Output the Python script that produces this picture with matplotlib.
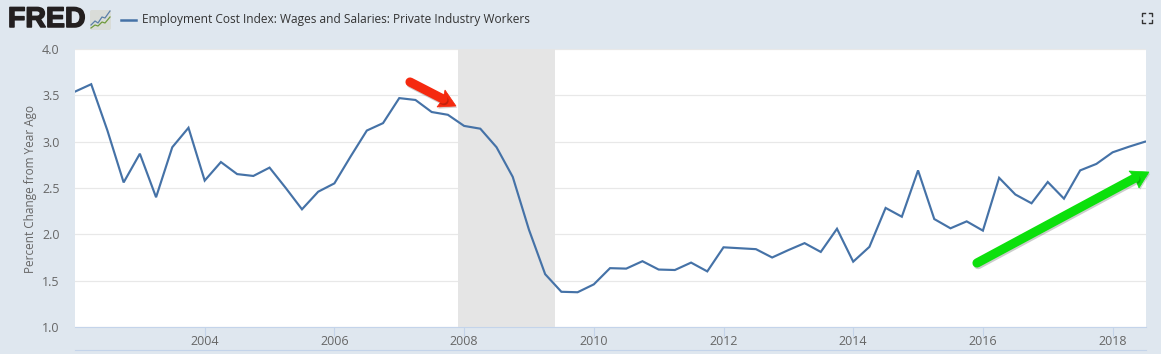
import matplotlib
matplotlib.use("Agg")
import matplotlib.pyplot as plt
from matplotlib.patches import FancyBboxPatch, Polygon
import matplotlib.patheffects as pe

plt.rcParams['font.family'] = ['Open Sans', 'DejaVu Sans']

years = [2002 + 0.25 * i for i in range(67)]
values = [3.54, 3.62, 3.12, 2.56, 2.87, 2.40, 2.94, 3.15,
          2.58, 2.78, 2.65, 2.63, 2.72, 2.50, 2.27, 2.46,
          2.55, 2.84, 3.12, 3.20, 3.47, 3.45, 3.32, 3.29,
          3.17, 3.14, 2.94, 2.62, 2.05, 1.57, 1.38, 1.375,
          1.46, 1.635, 1.63, 1.71, 1.62, 1.615, 1.695, 1.60,
          1.86, 1.85, 1.84, 1.75, 1.83, 1.905, 1.81, 2.06,
          1.705, 1.865, 2.285, 2.19, 2.69, 2.165, 2.065, 2.14,
          2.04, 2.61, 2.43, 2.335, 2.565, 2.385, 2.69, 2.76,
          2.885, 2.945, 3.0]
recession = (2007.91, 2009.40)
x_ticks = [2004, 2006, 2008, 2010, 2012, 2014, 2016, 2018]
y_ticks = [1.0, 1.5, 2.0, 2.5, 3.0, 3.5, 4.0]
series_name = "Employment Cost Index: Wages and Salaries: Private Industry Workers"
y_label = "Percent Change from Year Ago"

W, H = 1161, 354
BG = '#dfe7ef'
LINE = '#4572a7'
GREY = '#666666'
AXISC = '#c4d4ea'
fig = plt.figure(figsize=(W / 100, H / 100), dpi=100, facecolor=BG)

L, R, T, B = 75, 1146, 49, 327
ax = fig.add_axes([L / W, 1 - B / H, (R - L) / W, (B - T) / H])
ax.set_xlim(2002, 2018.515)
ax.set_ylim(1, 4)
ax.axvspan(*recession, color='#e5e5e5', zorder=1.5, lw=0)
ax.plot(years, values, color=LINE, lw=1.55, zorder=3, solid_joinstyle='miter')
ax.set_xticks(x_ticks)
ax.set_yticks(y_ticks)
ax.set_yticklabels([f"{v:.1f}" for v in y_ticks])
ax.grid(axis='y', color='#e8e8e8', lw=0.9, zorder=1)
ax.set_axisbelow(True)
for s in ('top', 'left', 'right'):
    ax.spines[s].set_visible(False)
ax.spines['bottom'].set_color(AXISC)
ax.tick_params(axis='x', length=6.5, width=0.8, color=AXISC, labelsize=9, labelcolor=GREY, pad=-0.5)
ax.tick_params(axis='y', length=0, labelsize=9, labelcolor=GREY, pad=11)
ax.set_ylabel(y_label, fontsize=8.5, color=GREY)
ax.yaxis.set_label_coords(-0.0355, 0.495)

# overlay in pixel coordinates for page furniture
ov = fig.add_axes([0, 0, 1, 1], facecolor='none', zorder=5)
ov.set_xlim(0, W)
ov.set_ylim(H, 0)
ov.axis('off')

ov.plot([75, R], [349.5, 349.5], color=AXISC, lw=0.8)

ov.text(8, 20, "FRED", fontsize=20.5, fontweight='bold', color='#231f20', va='center', ha='left',
        family=['Liberation Sans', 'DejaVu Sans'],
        path_effects=[pe.withStroke(linewidth=1.1, foreground='#231f20')])

# small logo icon
ov.add_patch(FancyBboxPatch((90, 10), 21, 20, boxstyle='round,pad=0,rounding_size=2',
                            fc='#d9dcd8', ec='none'))
ov.plot([91, 95, 98, 102, 105, 110], [25, 21, 23, 17, 18, 11], color='#5b7fa8', lw=0.9)
ov.plot([91, 95, 98, 102, 105, 110], [28, 25, 26, 22, 23, 17], color='#6f9a3c', lw=0.9)

# legend
ov.plot([121, 136], [20, 20], color=LINE, lw=1.8)
ov.text(142, 20, series_name, fontsize=8.6, color='#333333', va='center', ha='left')

# fullscreen icon
cx0, cx1, cy0, cy1 = 1142, 1152, 13, 23
for xs, ys in [([cx0, cx0, cx0 + 3], [cy0 + 3, cy0, cy0]),
               ([cx1 - 3, cx1, cx1], [cy0, cy0, cy0 + 3]),
               ([cx0, cx0, cx0 + 3], [cy1 - 3, cy1, cy1]),
               ([cx1 - 3, cx1, cx1], [cy1, cy1, cy1 - 3])]:
    ov.plot(xs, ys, color='#333333', lw=1.0)

# annotation arrows: rounded shaft plus a swept-back head
def arrow(tail, neck, tip, barb1, barb2, color):
    shadow = [pe.SimplePatchShadow(offset=(0.8, -1.2), alpha=0.2), pe.Normal()]
    ov.plot([tail[0], neck[0]], [tail[1], neck[1]], color=color, lw=6.6,
            solid_capstyle='round',
            path_effects=[pe.SimpleLineShadow(offset=(0.8, -1.2), alpha=0.2), pe.Normal()])
    ov.add_patch(Polygon([tip, barb1, neck, barb2], closed=True, fc=color, ec=color,
                         lw=0.5, path_effects=shadow))

arrow((410, 82), (443, 99), (456, 106), (445, 90), (437, 107), '#f5290f')
arrow((977, 263), (1135, 178), (1149, 172), (1129, 171), (1139, 188), '#0ce00c')

fig.savefig('out.png', dpi=100, facecolor=BG)
